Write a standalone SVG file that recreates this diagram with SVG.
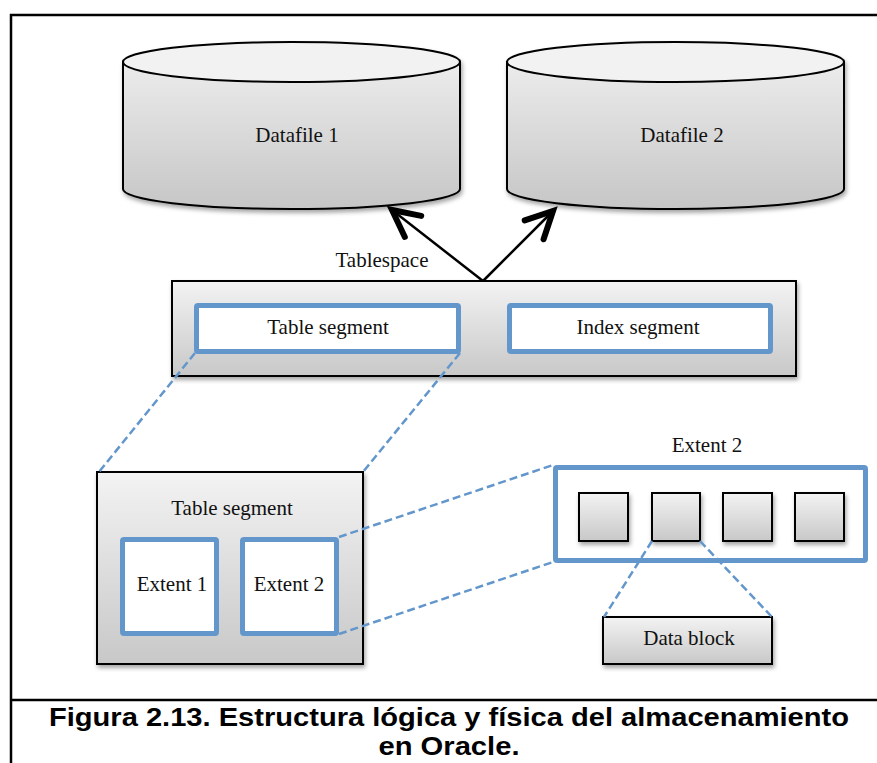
<svg xmlns="http://www.w3.org/2000/svg" width="877" height="763" viewBox="0 0 877 763">
  <style>
    .lbl { font-family: "Liberation Sans", Arial, sans-serif; font-size: 21px; fill: #111; text-anchor: middle; }
    .lbl { font-family: "Liberation Serif", "Times New Roman", serif; }
    .cap { font-family: "Liberation Sans", Arial, sans-serif; font-size: 25.5px; font-weight: bold; fill: #000; text-anchor: middle; }
    .gbox { fill: url(#gGrad); stroke: #000; stroke-width: 2; filter: url(#shadow); }
    .bbox { fill: #fff; stroke: #6397CC; stroke-width: 5; }
    .dash { fill: none; stroke: #6397CC; stroke-width: 2.5; stroke-dasharray: 8 4; }
    .arrow { fill: none; stroke: #000; stroke-width: 2.5; marker-end: url(#head); }
    .frame { fill: none; stroke: #000; stroke-width: 2.5; }
  </style>
  <defs>
    <linearGradient id="gGrad" x1="0" y1="0" x2="0" y2="1">
      <stop offset="0" stop-color="#f3f3f3"/>
      <stop offset="1" stop-color="#c8c8c8"/>
    </linearGradient>
    <linearGradient id="cylGrad" x1="0" y1="0" x2="0" y2="1">
      <stop offset="0" stop-color="#ececec"/>
      <stop offset="1" stop-color="#c6c6c6"/>
    </linearGradient>
    <filter id="shadow" x="-10%" y="-10%" width="130%" height="140%">
      <feDropShadow dx="1.5" dy="3" stdDeviation="2" flood-color="#000" flood-opacity="0.35"/>
    </filter>
    <marker id="head" markerUnits="userSpaceOnUse" markerWidth="40" markerHeight="40" viewBox="-25 -15 30 30" refX="0" refY="0" orient="auto">
      <path d="M -20 -10 L 0 0 L -20 10" fill="none" stroke="#000" stroke-width="4.5" stroke-linecap="round" stroke-linejoin="miter"/>
    </marker>
  </defs>

  <!-- frame -->
  <g id="frame">
    <path class="frame" d="M 11 763 L 11 15 L 877 15"/>
    <path class="frame" d="M 11 700 L 877 700"/>
  </g>

  <g id="datafile1">
    <g filter="url(#shadow)">
      <path d="M 123 62 L 123 189 A 168.5 20 0 0 0 460 189 L 460 62 Z" fill="url(#cylGrad)" stroke="#000" stroke-width="2"/>
      <ellipse cx="291.5" cy="62" rx="168.5" ry="20" fill="#f2f2f2" stroke="#000" stroke-width="2"/>
    </g>
    <text class="lbl" x="297" y="142">Datafile 1</text>
  </g>

  <g id="datafile2">
    <g filter="url(#shadow)">
      <path d="M 507 62 L 507 189 A 168.5 20 0 0 0 844 189 L 844 62 Z" fill="url(#cylGrad)" stroke="#000" stroke-width="2"/>
      <ellipse cx="675.5" cy="62" rx="168.5" ry="20" fill="#f2f2f2" stroke="#000" stroke-width="2"/>
    </g>
    <text class="lbl" x="682" y="142">Datafile 2</text>
  </g>

  <g id="tablespace">
    <text class="lbl" x="382" y="267">Tablespace</text>
    <rect class="gbox" x="172" y="281" width="624" height="95"/>
  </g>

  <g id="table-segment-top">
    <rect class="bbox" x="196.5" y="305.5" width="262" height="46" rx="1.5"/>
    <text class="lbl" x="328" y="334">Table segment</text>
  </g>

  <g id="index-segment">
    <rect class="bbox" x="509.5" y="305.5" width="261" height="46" rx="1.5"/>
    <text class="lbl" x="638" y="334">Index segment</text>
  </g>

  <g id="table-segment">
    <rect class="gbox" x="97" y="472" width="266" height="192"/>
    <text class="lbl" x="232" y="515">Table segment</text>
  </g>

  <g id="extent1">
    <rect class="bbox" x="122.5" y="539.5" width="94" height="94" rx="1.5"/>
    <text class="lbl" x="172" y="591">Extent 1</text>
  </g>

  <g id="extent2">
    <rect class="bbox" x="242.5" y="539.5" width="94" height="94" rx="1.5"/>
    <text class="lbl" x="289" y="591">Extent 2</text>
  </g>

  <g id="extent2-detail">
    <text class="lbl" x="707" y="452">Extent 2</text>
    <rect class="bbox" x="555.5" y="467.5" width="310" height="93" rx="1.5"/>
  </g>

  <g id="block1"><rect class="gbox" x="579" y="493" width="49" height="48"/></g>
  <g id="block2"><rect class="gbox" x="652" y="493" width="48" height="48"/></g>
  <g id="block3"><rect class="gbox" x="723" y="493" width="49" height="48"/></g>
  <g id="block4"><rect class="gbox" x="795" y="493" width="49" height="48"/></g>

  <g id="data-block">
    <rect class="gbox" x="603" y="617" width="169" height="47"/>
    <text class="lbl" x="689" y="645">Data block</text>
  </g>

  <!-- connectors -->
  <g id="connectors">
    <line class="arrow" x1="483" y1="281" x2="392" y2="210"/>
    <line class="arrow" x1="483" y1="281" x2="553" y2="211"/>
    <line class="dash" x1="195" y1="353" x2="99" y2="472"/>
    <line class="dash" x1="460" y1="353" x2="363" y2="472"/>
    <line class="dash" x1="339" y1="537" x2="553" y2="465"/>
    <line class="dash" x1="339" y1="634" x2="553" y2="562"/>
    <line class="dash" x1="652" y1="541" x2="604" y2="617"/>
    <line class="dash" x1="700" y1="541" x2="772" y2="617"/>
  </g>

  <g id="caption">
    <text class="cap" x="449" y="726" textLength="800" lengthAdjust="spacingAndGlyphs">Figura 2.13. Estructura lógica y física del almacenamiento</text>
    <text class="cap" x="449" y="755" textLength="141" lengthAdjust="spacingAndGlyphs">en Oracle.</text>
  </g>
</svg>
